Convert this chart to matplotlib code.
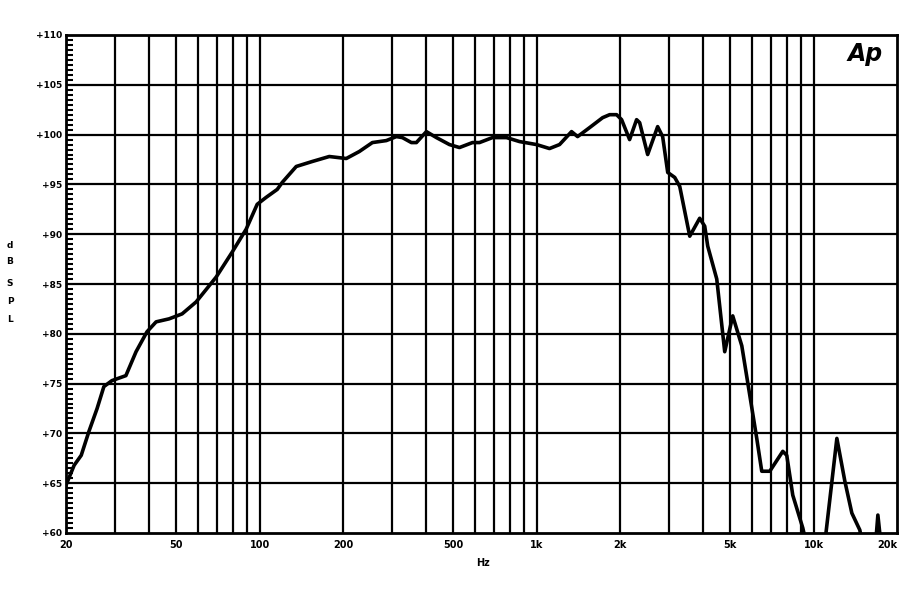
import matplotlib
matplotlib.use("Agg")
import matplotlib.pyplot as plt
import numpy as np

# frequency response (Hz, dB SPL)
freq = [20, 21.4, 22.7, 24.2, 25.9, 27.4, 29.3, 32.9, 35.8, 39.2, 42.3, 47.1,
        52.5, 59, 69.7, 79.6, 89.4, 98, 105.6, 115.8, 120.7, 135.6, 154.9,
        178.4, 205.5, 229, 255.3, 286.7, 311.7, 327.6, 353.1, 368.1, 400,
        434.8, 484.5, 526.6, 586.8, 621.9, 693, 778.5, 867.6, 998.8, 1113,
        1210, 1337, 1406, 1553, 1731, 1835, 1944, 2027, 2166, 2296, 2355,
        2517, 2735, 2851, 2974, 3152, 3286, 3571, 3879, 4045, 4147, 4470,
        4776, 5105, 5504, 6233, 6498, 6946, 7740, 7999, 8409, 9140, 9400,
        10000, 10976, 12132, 12965, 13740, 14682, 15200, 16640, 17060,
        17636, 20000]
spl = [64.8, 66.8, 67.8, 70.2, 72.5, 74.7, 75.3, 75.8, 78.2, 80.2, 81.2, 81.5,
       82.0, 83.2, 85.7, 88.2, 90.5, 93.0, 93.7, 94.5, 95.2, 96.8, 97.3,
       97.8, 97.6, 98.3, 99.2, 99.4, 99.8, 99.7, 99.2, 99.2, 100.3,
       99.7, 99.0, 98.7, 99.2, 99.2, 99.7, 99.7, 99.3, 99.0, 98.6,
       99.0, 100.3, 99.8, 100.7, 101.7, 102.0, 102.0, 101.5, 99.5, 101.5, 101.2,
       98.0, 100.8, 99.8, 96.2, 95.7, 94.8, 89.8, 91.6, 90.8, 88.8, 85.5,
       78.2, 81.8, 78.8, 69.5, 66.2, 66.2, 68.2, 67.8, 63.8, 60.5, 59.0,
       55, 59, 69.5, 65.2, 62.0, 60.3, 58, 58, 61.8,
       58, 55]

xticks = [20, 50, 100, 200, 500, 1000, 2000, 5000, 10000, 20000]
xlabels = ["20", "50", "100", "200", "500", "1k", "2k", "5k", "10k", "20k"]
yticks = [60, 65, 70, 75, 80, 85, 90, 95, 100, 105, 110]
ylabels = ["+%d" % v for v in yticks]

fig = plt.figure(figsize=(9, 6), dpi=100)
ax = fig.add_axes([66 / 900, 67 / 600, 831 / 900, 498 / 600])

ax.set_xscale("log")
ax.set_xlim(20, 20000)
ax.set_ylim(60, 110)

# grid lines
vlines = [m * d for d in (10, 100, 1000, 10000) for m in range(1, 10)]
vlines = [v for v in vlines if 20 < v < 20000]
for v in vlines:
    ax.axvline(v, color="black", lw=1.6, zorder=1)
for v in yticks[1:-1]:
    ax.axhline(v, color="black", lw=1.6, zorder=1)

ax.plot(freq, spl, color="black", lw=2.6, zorder=3, solid_joinstyle="round")

ax.set_xticks(xticks)
ax.set_xticklabels(xlabels, fontsize=7, fontweight="bold")
ax.get_xticklabels()[-1].set_horizontalalignment("right")
ax.xaxis.set_minor_locator(matplotlib.ticker.NullLocator())
ax.tick_params(axis="x", length=0, pad=5)

ax.set_yticks(yticks)
ax.set_yticklabels(ylabels, fontsize=6.5, fontweight="bold")
ax.set_yticks(np.arange(60, 110.01, 0.5), minor=True)
ax.tick_params(axis="y", which="major", length=0, pad=3)
ax.tick_params(axis="y", which="minor", direction="in", length=5, width=1.5,
               left=True, right=False)

for s in ax.spines.values():
    s.set_linewidth(2)

# stacked y label
for ch, yp in zip("dBSPL", [245, 262, 283, 301, 320]):
    fig.text(10 / 900, 1 - yp / 600, ch, fontsize=6.5, fontweight="bold",
             ha="center", va="center")
fig.text(483 / 900, 1 - 563 / 600, "Hz", fontsize=7, fontweight="bold",
         ha="center", va="center")

ax.text(0.962, 0.962, "Ap", transform=ax.transAxes, fontsize=17,
        fontweight="heavy", style="italic", ha="center", va="center")

fig.savefig("out.png", dpi=100, facecolor="white")
